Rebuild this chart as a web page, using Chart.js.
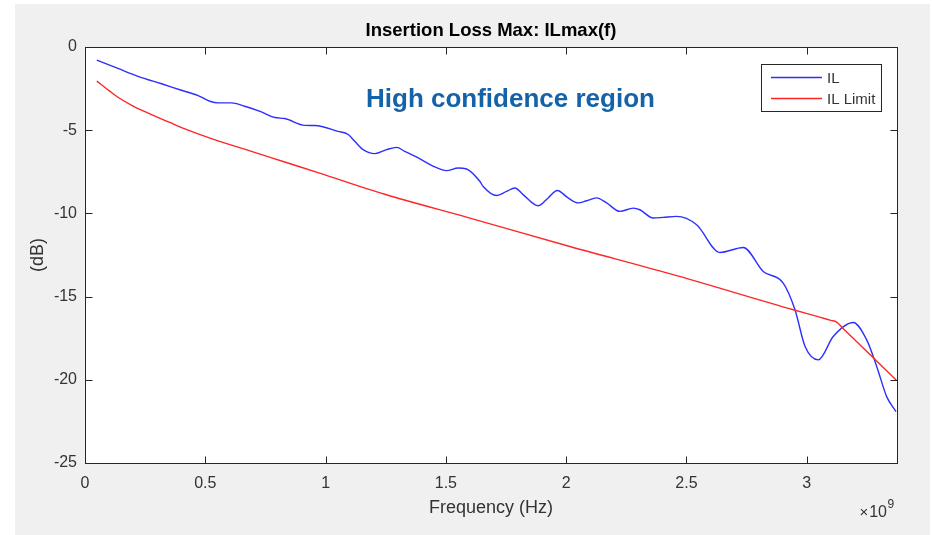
<!DOCTYPE html>
<html>
<head>
<meta charset="utf-8">
<title>Insertion Loss Max</title>
<script src="https://cdn.jsdelivr.net/npm/chart.js@4"></script>
<style>
  html, body { margin: 0; padding: 0; background: #fff; }
  #wrap { width: 932px; height: 535px; }
</style>
</head>
<body>
<div id="wrap"><canvas id="chart" width="932" height="535"></canvas></div>
<script>
// Frequencies are in units of 1e9 Hz (shown as x10^9 on the axis)
const ilFreq = [0.049, 0.137, 0.220, 0.318, 0.401, 0.470, 0.519, 0.553, 0.609, 0.664,
  0.733, 0.789, 0.830, 0.914, 0.955, 1.052, 1.094, 1.121, 1.156, 1.205,
  1.253, 1.295, 1.329, 1.385, 1.454, 1.503, 1.551, 1.586, 1.641, 1.655,
  1.711, 1.752, 1.787, 1.821, 1.884, 1.925, 1.963, 2.008, 2.050, 2.085,
  2.126, 2.168, 2.223, 2.279, 2.306, 2.362, 2.403, 2.459, 2.542, 2.639,
  2.736, 2.819, 2.902, 2.951, 2.993, 3.048, 3.110, 3.193, 3.249, 3.291,
  3.332, 3.371];
const ilDb = [-0.79, -1.29, -1.76, -2.21, -2.60, -2.92, -3.26, -3.36, -3.36, -3.56,
  -3.90, -4.24, -4.30, -4.71, -4.72, -5.07, -5.26, -5.67, -6.17, -6.41,
  -6.17, -6.03, -6.27, -6.67, -7.21, -7.43, -7.27, -7.33, -8.07, -8.38,
  -8.92, -8.68, -8.47, -8.87, -9.54, -9.07, -8.62, -9.07, -9.37, -9.24,
  -9.07, -9.37, -9.88, -9.68, -9.78, -10.28, -10.24, -10.18, -10.68, -12.35,
  -12.05, -13.49, -14.19, -15.79, -18.00, -18.80, -17.40, -16.56, -17.60, -19.21,
  -21.01, -21.91];

const limitFreq = [0.049, 0.1, 0.137, 0.2, 0.276, 0.35, 0.415, 0.553, 0.692, 0.83,
  0.969, 1.246, 1.6, 2.015, 2.43, 2.944, 3.05, 3.10, 3.124, 3.15, 3.35, 3.374];
const limitDb = [-2.05, -2.62, -3.02, -3.55, -4.06, -4.52, -4.92, -5.64, -6.27, -6.91,
  -7.55, -8.85, -10.28, -11.99, -13.62, -15.79, -16.22, -16.43, -16.53, -16.90, -19.71, -20.05];

const seriesNames = ['IL', 'IL Limit'];
const seriesColors = ['#2e2eff', '#ff2626'];

const xMin = 0, xMax = 3.375, xStep = 0.5;
const yMin = -25, yMax = 0, yStep = 5;

const axisColor = '#262626';
const textColor = '#333333';
const fontFamily = 'Arial, "Liberation Sans", Helvetica, sans-serif';

const toPoints = (xs, ys) => xs.map((x, i) => ({ x: x, y: ys[i] }));

// Figure background, white axes box, inward ticks, legend and annotation
const matlabLook = {
  id: 'matlabLook',
  beforeDraw(chart) {
    const { ctx, chartArea: a } = chart;
    ctx.save();
    ctx.fillStyle = '#f0f0f0';
    ctx.fillRect(15, 4, 915, 531);
    ctx.fillStyle = '#ffffff';
    ctx.fillRect(a.left, a.top, a.right - a.left, a.bottom - a.top);
    ctx.restore();
  },
  afterDatasetsDraw(chart) {
    const { ctx, chartArea: a, scales } = chart;
    const tl = 7;
    const L = Math.round(a.left) + 0.5, R = Math.round(a.right) + 0.5;
    const T = Math.round(a.top) + 0.5, B = Math.round(a.bottom) + 0.5;
    ctx.save();
    ctx.strokeStyle = axisColor;
    ctx.lineWidth = 1;
    ctx.beginPath();
    scales.x.ticks.forEach(t => {
      const px = Math.round(scales.x.getPixelForValue(t.value)) + 0.5;
      ctx.moveTo(px, B); ctx.lineTo(px, B - tl);
      ctx.moveTo(px, T); ctx.lineTo(px, T + tl);
    });
    scales.y.ticks.forEach(t => {
      const py = Math.round(scales.y.getPixelForValue(t.value)) + 0.5;
      ctx.moveTo(L, py); ctx.lineTo(L + tl, py);
      ctx.moveTo(R, py); ctx.lineTo(R - tl, py);
    });
    ctx.stroke();
    ctx.strokeRect(L, T, R - L, B - T);

    // annotation inside the axes
    ctx.fillStyle = '#1462a8';
    ctx.font = 'bold 26px ' + fontFamily;
    ctx.textAlign = 'left';
    ctx.textBaseline = 'alphabetic';
    ctx.fillText('High confidence region', 366, 107);

    // legend box
    const lx = 761, ly = 64, lw = 120, lh = 47;
    ctx.fillStyle = '#ffffff';
    ctx.fillRect(lx, ly, lw, lh);
    ctx.strokeRect(lx + 0.5, ly + 0.5, lw, lh);
    ctx.font = '15px ' + fontFamily;
    ctx.textBaseline = 'middle';
    seriesNames.forEach((name, i) => {
      const yy = 77.5 + i * 21;
      ctx.strokeStyle = seriesColors[i];
      ctx.lineWidth = 1.4;
      ctx.beginPath();
      ctx.moveTo(771, yy); ctx.lineTo(822, yy);
      ctx.stroke();
      ctx.fillStyle = textColor;
      ctx.fillText(name, 827, yy + 1);
    });

    // exponent label of the x axis
    ctx.fillStyle = textColor;
    ctx.textBaseline = 'alphabetic';
    ctx.textAlign = 'right';
    ctx.font = '16px ' + fontFamily;
    const w10 = ctx.measureText('10').width;
    ctx.fillText('10', 887, 517);
    ctx.font = '15px ' + fontFamily;
    ctx.fillText('\u00d7', 887 - w10 - 1, 517);
    ctx.textAlign = 'left';
    ctx.font = '12px ' + fontFamily;
    ctx.fillText('9', 887.5, 508);
    ctx.restore();
  }
};

new Chart(document.getElementById('chart'), {
  type: 'scatter',
  data: {
    datasets: [
      {
        label: seriesNames[0],
        data: toPoints(ilFreq, ilDb),
        borderColor: seriesColors[0],
        borderWidth: 1.4,
        showLine: true,
        pointRadius: 0,
        cubicInterpolationMode: 'monotone',
        order: 2
      },
      {
        label: seriesNames[1],
        data: toPoints(limitFreq, limitDb),
        borderColor: seriesColors[1],
        borderWidth: 1.4,
        showLine: true,
        pointRadius: 0,
        cubicInterpolationMode: 'monotone',
        order: 1
      }
    ]
  },
  options: {
    responsive: false,
    animation: false,
    layout: { padding: { left: 0, right: 35, top: 0, bottom: 0 } },
    plugins: {
      legend: { display: false },
      tooltip: { enabled: false },
      title: {
        display: true,
        fullSize: false,
        text: 'Insertion Loss Max: ILmax(f)',
        color: '#000',
        font: { family: fontFamily, size: 18.5, weight: 'bold', lineHeight: 1.2 },
        padding: { top: 20, bottom: 4.8 }
      }
    },
    scales: {
      x: {
        type: 'linear',
        min: xMin,
        max: xMax,
        grid: { display: false, drawTicks: false },
        border: { display: false },
        ticks: {
          stepSize: xStep,
          includeBounds: false,
          padding: 11,
          color: textColor,
          font: { family: fontFamily, size: 16 },
          maxRotation: 0,
          callback: v => String(v)
        },
        title: {
          display: true,
          text: 'Frequency (Hz)',
          color: textColor,
          font: { family: fontFamily, size: 18 },
          padding: { top: 0, bottom: 16 }
        },
        afterFit: s => { s.height = 72; }
      },
      y: {
        type: 'linear',
        min: yMin,
        max: yMax,
        grid: { display: false, drawTicks: false },
        border: { display: false },
        ticks: {
          stepSize: yStep,
          padding: 8,
          color: textColor,
          font: { family: fontFamily, size: 16 },
          callback: v => String(v)
        },
        title: {
          display: true,
          text: '(dB)',
          color: textColor,
          font: { family: fontFamily, size: 18 },
          padding: { top: 27, bottom: 0 }
        },
        afterFit: s => { s.width = 85; }
      }
    }
  },
  plugins: [matlabLook]
});
</script>
</body>
</html>
